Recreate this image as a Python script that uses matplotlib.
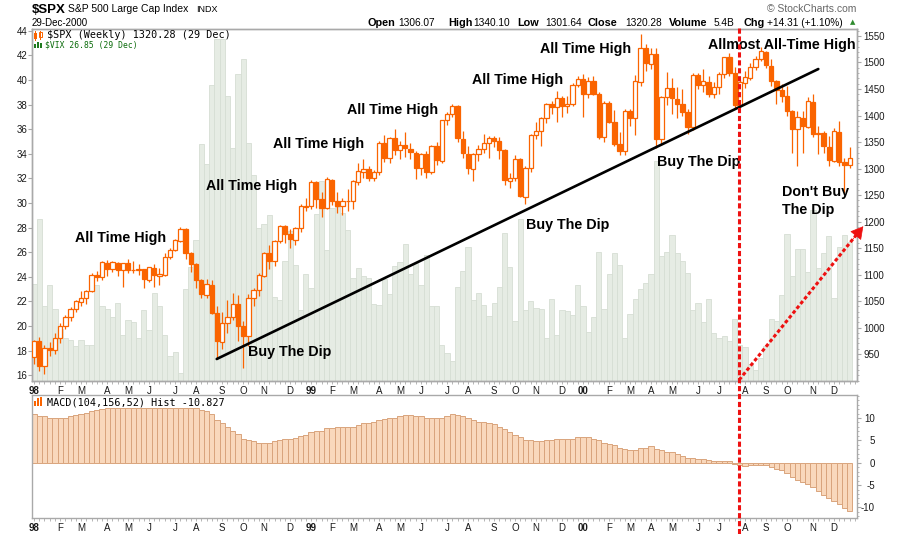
import matplotlib
matplotlib.use('Agg')
import matplotlib.pyplot as plt
import matplotlib.transforms as mtrans
from matplotlib.patches import Rectangle
from matplotlib.lines import Line2D
from matplotlib.ticker import MultipleLocator
import numpy as np

plt.rcParams['font.family'] = ['Liberation Sans', 'DejaVu Sans']
plt.rcParams['axes.unicode_minus'] = False

# ---------------- data (weekly, 02-Jan-1998 .. 29-Dec-2000) ----------------
opens = [
    945, 975, 927, 961, 957, 980, 1003, 1020, 1034, 1049, 1055, 1068, 1099, 1095, 1122, 1110, 1122, 1108, 1121, 1108,
    1108, 1110, 1090, 1113, 1098, 1100, 1133, 1146, 1164, 1186, 1140, 1120, 1089, 1062, 1081, 1027, 973, 1009, 1020, 1044,
    1002, 984, 1056, 1070, 1098, 1141, 1125, 1163, 1192, 1176, 1166, 1188, 1228,
    1229, 1275, 1243, 1225, 1279, 1239, 1230, 1239, 1238, 1275, 1294, 1299, 1282, 1293, 1348, 1319, 1357, 1335, 1345, 1337,
    1330, 1301, 1327, 1293, 1342, 1315, 1391, 1403, 1418, 1356, 1328, 1300, 1327, 1336, 1348, 1357, 1351, 1335, 1277, 1283,
    1317, 1247, 1301, 1363, 1370, 1396, 1422, 1416, 1433, 1417, 1421, 1458,
    1469, 1441, 1465, 1441, 1360, 1424, 1387, 1346, 1333, 1409, 1395, 1464, 1527, 1498, 1516, 1356, 1434, 1452, 1432, 1421,
    1407, 1378, 1477, 1457, 1464, 1441, 1454, 1478, 1510, 1480, 1419, 1462, 1471, 1491, 1506, 1520, 1494, 1465, 1448, 1436,
    1409, 1374, 1396, 1379, 1426, 1366, 1367, 1341, 1315, 1369, 1312, 1306.07]
highs = [
    976, 982, 967, 973, 989, 1008, 1024, 1038, 1052, 1069, 1071, 1103, 1106, 1125, 1127, 1126, 1124, 1122, 1130, 1125,
    1120, 1111, 1115, 1120, 1113, 1140, 1150, 1167, 1190, 1188, 1142, 1122, 1092, 1092, 1089, 1040, 1030, 1052, 1066, 1062,
    1012, 1063, 1075, 1103, 1143, 1156, 1166, 1193, 1193, 1185, 1190, 1233, 1245,
    1278, 1277, 1256, 1284, 1281, 1255, 1245, 1262, 1278, 1311, 1317, 1305, 1298, 1351, 1364, 1360, 1375, 1352, 1368, 1348,
    1333, 1330, 1333, 1345, 1350, 1392, 1406, 1421, 1419, 1370, 1342, 1330, 1345, 1366, 1361, 1362, 1359, 1337, 1291, 1326,
    1320, 1304, 1366, 1387, 1398, 1424, 1428, 1447, 1437, 1436, 1462, 1474,
    1478, 1473, 1475, 1445, 1428, 1428, 1410, 1368, 1413, 1413, 1477, 1553, 1534, 1527, 1527, 1436, 1482, 1470, 1454, 1450,
    1412, 1481, 1480, 1488, 1474, 1463, 1482, 1511, 1517, 1492, 1467, 1484, 1499, 1512, 1530, 1522, 1506, 1467, 1460, 1455,
    1411, 1408, 1409, 1434, 1441, 1380, 1371, 1362, 1376, 1390, 1319, 1340.10]
lows = [
    932, 918, 912, 946, 950, 970, 998, 1012, 1029, 1040, 1044, 1067, 1088, 1090, 1098, 1105, 1097, 1077, 1102, 1103,
    1100, 1074, 1086, 1077, 1080, 1097, 1130, 1145, 1162, 1130, 1105, 1074, 1056, 1055, 1025, 940, 960, 990, 1014, 975,
    923, 965, 1040, 1060, 1095, 1111, 1117, 1160, 1160, 1150, 1155, 1180, 1220,
    1223, 1225, 1209, 1224, 1232, 1216, 1212, 1220, 1223, 1268, 1283, 1276, 1276, 1288, 1312, 1310, 1325, 1317, 1322, 1318,
    1281, 1287, 1283, 1289, 1306, 1310, 1383, 1397, 1350, 1320, 1290, 1276, 1315, 1330, 1320, 1340, 1318, 1268, 1264, 1276,
    1246, 1233, 1294, 1356, 1342, 1385, 1402, 1387, 1397, 1404, 1418, 1454,
    1397, 1433, 1438, 1356, 1350, 1385, 1342, 1325, 1325, 1380, 1364, 1455, 1484, 1488, 1339, 1344, 1420, 1402, 1396, 1400,
    1365, 1372, 1450, 1444, 1434, 1433, 1440, 1470, 1475, 1413, 1416, 1452, 1467, 1486, 1502, 1489, 1455, 1421, 1425, 1400,
    1330, 1305, 1329, 1376, 1360, 1328, 1330, 1305, 1313, 1305, 1254, 1301.64]
closes = [
    975.0, 927.7, 961.5, 957.6, 980.3, 1003.5, 1020.1, 1034.2, 1049.3, 1055.7, 1068.6, 1099.2, 1095.4, 1122.7, 1110.7,
    1122.7, 1107.9, 1121.0, 1108.1, 1108.7, 1110.5, 1090.8, 1113.9, 1098.8, 1100.7, 1133.2, 1146.4, 1164.3, 1186.8, 1140.8,
    1120.7, 1089.5, 1062.8, 1081.2, 1027.1, 973.9, 1009.1, 1020.1, 1044.8, 1002.6, 984.6, 1056.4, 1070.7, 1098.7, 1141.0,
    1125.7, 1163.6, 1192.3, 1176.7, 1166.5, 1188.0, 1228.5, 1229.2,
    1275.1, 1243.3, 1225.2, 1279.6, 1239.4, 1230.1, 1239.2, 1238.3, 1275.5, 1294.6, 1299.3, 1282.8, 1293.7, 1348.4, 1319.0,
    1356.9, 1335.2, 1345.0, 1337.8, 1330.3, 1301.8, 1327.8, 1293.6, 1342.8, 1315.3, 1391.2, 1403.3, 1418.8, 1356.9, 1328.7,
    1300.3, 1327.7, 1336.6, 1348.3, 1357.2, 1351.7, 1335.4, 1277.4, 1282.8, 1317.6, 1247.4, 1301.7, 1362.9, 1370.2, 1396.1,
    1422.0, 1416.6, 1433.3, 1417.0, 1421.0, 1458.3, 1469.3,
    1441.5, 1465.2, 1441.4, 1360.2, 1424.4, 1387.1, 1346.1, 1333.4, 1409.2, 1395.1, 1464.5, 1527.5, 1498.6, 1516.4, 1356.6,
    1434.5, 1452.4, 1432.2, 1421.0, 1407.0, 1378.0, 1477.3, 1457.0, 1464.5, 1441.5, 1454.6, 1478.9, 1510.0, 1480.2, 1419.9,
    1462.9, 1471.8, 1491.7, 1506.5, 1520.8, 1494.5, 1465.8, 1448.7, 1436.5, 1409.0, 1374.2, 1396.9, 1379.6, 1426.7, 1366.0,
    1367.7, 1341.8, 1315.2, 1369.9, 1312.2, 1306.0, 1320.28]
vix = [
    23.4, 28.7, 21.6, 23.3, 21.4, 19.8, 19.0, 18.9, 18.4, 18.9, 18.5, 18.5, 23.3, 21.6, 21.4, 20.7, 21.9, 19.3, 20.5, 20.3,
    19.0, 21.3, 19.7, 22.7, 21.6, 19.3, 17.6, 17.9, 16.2, 23.0, 24.8, 27.0, 34.8, 33.2, 39.6, 43.3, 43.3, 38.7, 34.5, 40.5,
    41.7, 34.9, 32.3, 28.0, 28.3, 29.0, 22.4, 22.1, 25.3, 27.7, 25.0, 21.3, 24.2,
    23.1, 29.1, 31.8, 26.2, 29.6, 29.7, 29.2, 27.8, 23.9, 24.7, 24.1, 23.9, 21.8, 21.7, 23.8, 22.6, 24.9, 25.2, 26.7, 24.2,
    25.1, 23.3, 25.8, 21.6, 21.6, 18.5, 17.8, 17.2, 23.2, 24.5, 26.4, 22.1, 22.7, 21.7, 20.8, 21.9, 23.2, 27.6, 24.8, 20.4,
    28.7, 21.3, 22.0, 21.5, 21.4, 19.0, 22.2, 19.3, 21.3, 21.2, 20.9, 23.3,
    21.6, 19.5, 20.7, 26.0, 21.4, 24.2, 25.9, 25.0, 19.0, 21.0, 22.2, 23.0, 23.5, 24.2, 33.4, 25.7, 26.0, 27.4, 25.9, 25.3,
    24.3, 21.3, 21.9, 20.3, 22.2, 19.4, 19.0, 19.2, 18.8, 20.6, 18.5, 18.3, 16.9, 16.4, 17.4, 18.4, 20.6, 20.4, 22.5, 27.5,
    24.1, 26.3, 26.3, 24.4, 29.4, 24.7, 25.9, 27.3, 22.3, 26.4, 27.4, 26.85]
macd_hist = [
    10.8, 10.4, 10.4, 10.1, 10.1, 10.1, 10.1, 10.4, 10.6, 10.8, 11.1, 11.6, 11.8, 12.1, 12.2, 12.2, 12.2, 12.2, 12.2, 12.2,
    12.2, 12.2, 12.2, 12.2, 12.2, 12.2, 12.2, 12.2, 12.2, 12.2, 12.2, 12.2, 11.9, 11.6, 10.8, 9.5, 8.8, 7.9, 7.2, 6.4,
    5.4, 5.0, 4.8, 4.5, 4.5, 4.5, 4.8, 5.1, 5.3, 5.3, 5.5, 6.0, 6.3,
    6.8, 7.1, 7.2, 7.7, 7.7, 7.9, 7.9, 7.9, 8.1, 8.4, 8.8, 8.8, 9.0, 9.5, 9.7, 10.1, 10.1, 10.4, 10.7, 10.7,
    10.4, 10.4, 10.1, 10.1, 9.9, 10.1, 10.4, 10.8, 10.7, 10.4, 9.9, 9.5, 9.2, 9.0, 8.8, 8.6, 8.1, 7.5, 6.8, 6.3,
    5.7, 5.0, 5.0, 4.8, 4.8, 5.0, 5.0, 5.2, 5.2, 5.2, 5.4, 5.7,
    5.8, 5.8, 5.2, 5.0, 4.5, 4.2, 3.9, 3.2, 3.0, 2.8, 2.8, 3.2, 3.4, 3.7, 3.0, 2.8, 2.5, 2.3, 1.9, 1.4,
    1.0, 1.0, 0.8, 0.8, 0.5, 0.4, 0.4, 0.4, 0.4, -0.2, -0.4, -0.7, -0.5, -0.5, -0.5, -0.5, -0.9, -1.3, -1.7, -2.4,
    -3.1, -3.8, -4.4, -4.8, -5.5, -6.3, -7.2, -7.9, -8.6, -9.3, -10.2, -10.827]
month_weeks = [0, 5, 9, 14, 18, 22, 27, 31, 36, 40, 44, 49,
               53, 57, 61, 66, 70, 74, 79, 83, 88, 92, 96, 101,
               105, 110, 114, 118, 122, 127, 131, 136, 140, 144, 149, 153]
month_labels = ['98', 'F', 'M', 'A', 'M', 'J', 'J', 'A', 'S', 'O', 'N', 'D',
                '99', 'F', 'M', 'A', 'M', 'J', 'J', 'A', 'S', 'O', 'N', 'D',
                '00', 'F', 'M', 'A', 'M', 'J', 'J', 'A', 'S', 'O', 'N', 'D']
year_labels = ['98', '99', '00']
vix_ticks = list(range(16, 45, 2))
price_ticks = list(range(950, 1551, 50))
macd_ticks = [-10, -5, 0, 5, 10]

annotations = [
    ("All Time High", 75, 238), ("All Time High", 206, 186), ("All Time High", 273, 144),
    ("All Time High", 347, 110), ("All Time High", 472, 80), ("All Time High", 540, 49),
    ("Allmost All-Time High", 708, 45), ("Buy The Dip", 248, 352), ("Buy The Dip", 526, 225),
    ("Buy The Dip", 657, 162), ("Don't Buy", 782, 192), ("The Dip", 782, 210),
]
trend_x = [34.95, 150.0]
trend_y = [940.6, 1487.7]
cut_week = 134.85
arrow_start = (134.85, 901)
arrow_end = (158.6, 1191)

# ---------------- figure ----------------
W, H = 900, 534
fig = plt.figure(figsize=(9, 5.34), dpi=100)
fig.patch.set_facecolor('white')

def fx(px):
    return px / W

def fy(py):
    return 1 - py / H

ORANGE = '#fa6400'
FRAME = '#a9a9a9'
TXT = '#1a1a1a'

ax = fig.add_axes([fx(32), fy(381), (857 - 32) / W, (381 - 29) / H])
ax2 = ax.twinx()
ax3 = fig.add_axes([fx(32), fy(518), (857 - 32) / W, (518 - 395) / H])

n = len(closes)
x = np.arange(n)
XL = (-0.38, 157.4)
VIX_LO, VIX_HI = 15.54, 44.14

# VIX background bars
ax.bar(x, np.array(vix) - VIX_LO, bottom=VIX_LO, width=1.0, color='#e6ece4',
       edgecolor='#d6ded4', linewidth=0.6, zorder=1)
ax.set_ylim(VIX_LO, VIX_HI)
ax.set_xlim(*XL)

# candles
w = 0.82
for i in range(n):
    o, h, l, c = opens[i], highs[i], lows[i], closes[i]
    ax2.plot([i, i], [l, h], color=ORANGE, lw=0.9, zorder=2, solid_capstyle='butt')
    lo_b, hi_b = min(o, c), max(o, c)
    hgt = max(hi_b - lo_b, 1.2)
    face = 'white' if c >= o else ORANGE
    ax2.add_patch(Rectangle((i - w / 2, lo_b), w, hgt, facecolor=face,
                            edgecolor=ORANGE, linewidth=0.9, zorder=3))
ax2.set_ylim(899.1, 1563.2)
ax2.set_xlim(*XL)

# trend line
ax2.plot(trend_x, trend_y, color='black', lw=1.9, zorder=4, solid_capstyle='round')

# red dotted arrow
ax2.plot([arrow_start[0], arrow_end[0] - 0.9], [arrow_start[1], arrow_end[1] - 11],
         color='#ee1111', lw=2.2, linestyle=(0, (1.2, 0.8)), clip_on=False, zorder=7)
ax2.annotate('', xy=arrow_end, xytext=(arrow_end[0] - 2.2, arrow_end[1] - 27),
             arrowprops=dict(arrowstyle='-|>,head_length=0.8,head_width=0.45',
                             color='#ee1111', lw=0.5, shrinkA=0, shrinkB=0),
             annotation_clip=False, zorder=7)

# MACD histogram
ax3.bar(x, macd_hist, width=1.0, color='#f9d8bc', edgecolor='#d9a47c', linewidth=0.7, zorder=2)
ax3.set_xlim(*XL)
ax3.set_ylim(-12.37, 15.15)

# axes styling
for a in (ax, ax2, ax3):
    for s in a.spines.values():
        s.set_color(FRAME)
        s.set_linewidth(1.0)

ax.set_yticks(vix_ticks)
ax.tick_params(axis='y', which='major', length=3, width=0.8, color=FRAME,
               labelsize=7, labelcolor=TXT, pad=0.5)
ax2.set_yticks(price_ticks)
ax2.yaxis.set_minor_locator(MultipleLocator(10))
ax2.tick_params(axis='y', which='major', length=3, width=0.8, color=FRAME,
                labelsize=7, labelcolor=TXT, pad=1.5)
ax2.tick_params(axis='y', which='minor', length=1.5, width=0.6, color=FRAME)

ax3.yaxis.tick_right()
ax3.set_yticks(macd_ticks)
ax3.yaxis.set_minor_locator(MultipleLocator(1))
ax3.tick_params(axis='y', which='major', length=3, width=0.8, color=FRAME,
                labelsize=7, labelcolor=TXT, pad=10)
ax3.tick_params(axis='y', which='minor', length=1.5, width=0.6, color=FRAME)
for lab in ax3.get_yticklabels():
    lab.set_horizontalalignment('right')

for a in (ax, ax3):
    a.set_xticks(month_weeks)
    a.set_xticklabels(month_labels)
    a.xaxis.set_minor_locator(MultipleLocator(1))
    a.tick_params(axis='x', which='major', length=2, width=0.6, color=FRAME,
                  labelsize=7, labelcolor=TXT, pad=1.8)
    a.tick_params(axis='x', which='minor', length=2, width=0.6, color=FRAME)
    for lab in a.get_xticklabels():
        if lab.get_text() in year_labels:
            lab.set_fontweight('bold')
ax2.tick_params(axis='x', which='both', length=0)

# annotations
for txt, px, py in annotations:
    fig.text(fx(px), fy(py), txt, fontsize=10.3, fontweight='bold', color='black',
             ha='left', va='center', zorder=5)

# red dashed vertical line through both panels
blend = mtrans.blended_transform_factory(ax2.transData, fig.transFigure)
fig.add_artist(Line2D([cut_week, cut_week], [fy(28), fy(534)], transform=blend,
                      color='#ee1111', lw=2.2, linestyle=(0, (1.7, 0.9)), zorder=8))

# header
fig.text(fx(32), fy(9.8), '$SPX', fontsize=9.5, fontweight='bold', color='black', va='center', ha='left')
fig.text(fx(68.3), fy(9.5), 'S&P 500 Large Cap Index', fontsize=7.5, color='black', va='center', ha='left')
fig.text(fx(196), fy(9.5), 'INDX', fontsize=6.5, color='black', va='center', ha='left')
fig.text(fx(32), fy(22.7), '29-Dec-2000', fontsize=7, color='black', va='center', ha='left')
fig.text(fx(767), fy(9.3), '\u00a9 StockCharts.com', fontsize=7.5, color='#666666', va='center', ha='left')

hdr = [('Open', 368, True), ('1306.07', 398.5, False), ('High', 448, True), ('1340.10', 473, False),
       ('Low', 517, True), ('1301.64', 545, False), ('Close', 588, True), ('1320.28', 625, False),
       ('Volume', 669, True), ('5.4B', 714, False), ('Chg', 743, True), ('+14.31 (+1.10%)', 767, False)]
for t, px, b in hdr:
    fig.text(fx(px), fy(22.7), t, fontsize=7.8 if b else 7.3,
             fontweight='bold' if b else 'normal', color='black', va='center', ha='left')
fig.text(fx(853), fy(22.2), '\u25b2', fontsize=5, color='#2e8b2e', va='center', ha='center',
         family='DejaVu Sans')

# legend texts
fig.text(fx(46.7), fy(35), '$SPX (Weekly) 1320.28 (29 Dec)', fontsize=7.3, family='DejaVu Sans Mono',
         color='black', va='center', ha='left')
fig.text(fx(45), fy(45), '$VIX 26.85 (29 Dec)', fontsize=5.8, family='DejaVu Sans Mono',
         color='#0a6b0a', va='center', ha='left')
fig.text(fx(46.7), fy(402.7), 'MACD(104,156,52) Hist -10.827', fontsize=7.3, family='DejaVu Sans Mono',
         color='black', va='center', ha='left')

def prect(x0, y0, x1, y1, fc, ec=None, lw=0.0):
    fig.add_artist(Rectangle((fx(x0), fy(y1)), (x1 - x0) / W, (y1 - y0) / H,
                             transform=fig.transFigure, facecolor=fc,
                             edgecolor=ec if ec else fc, linewidth=lw, zorder=6))

# SPX icon (mini candles)
prect(34, 33, 37, 39, ORANGE)
prect(38.5, 32, 41.5, 37, 'white', ORANGE, 0.7)
prect(40, 30.5, 40.6, 40, ORANGE)
prect(35.2, 31, 35.8, 41, ORANGE)
# VIX icon (green bars)
prect(34, 44, 36, 48.5, '#1f7a1f')
prect(36.8, 42, 38.8, 48.5, '#1f7a1f')
prect(39.6, 43.5, 41.6, 48.5, '#1f7a1f')
# MACD icon (orange bars)
prect(34, 401, 36, 406, ORANGE)
prect(36.8, 398, 38.8, 406, ORANGE)
prect(39.6, 397, 41.6, 406, ORANGE)

fig.savefig('out.png', dpi=100, facecolor='white')
